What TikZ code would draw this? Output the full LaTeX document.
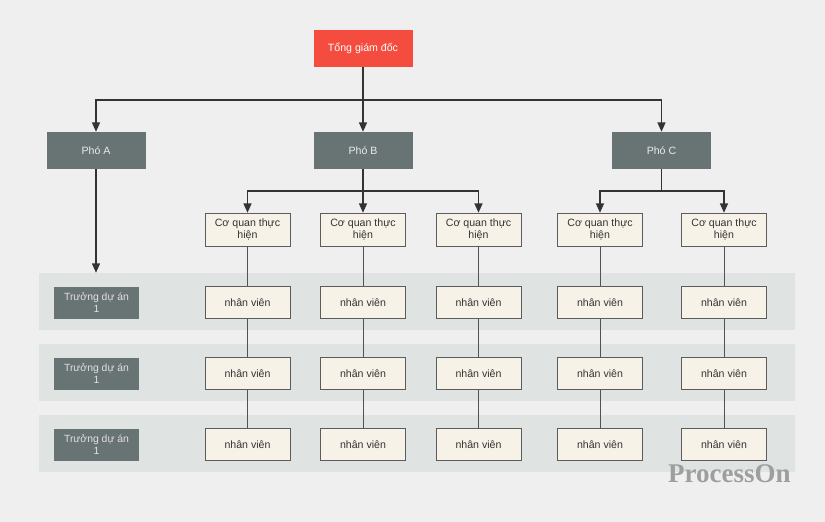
\documentclass[tikz,border=0pt]{standalone}
\usepackage{fontspec}
\setmainfont{Liberation Sans}
\newfontfamily\markfont{Liberation Serif}
\usetikzlibrary{arrows.meta}

\definecolor{bgcol}{HTML}{EFEFEF}
\definecolor{bandcol}{HTML}{DFE4E3}
\definecolor{redbox}{HTML}{F44C3E}
\definecolor{greybox}{HTML}{687473}
\definecolor{beige}{HTML}{F7F2E8}
\definecolor{linecol}{HTML}{333333}

\begin{document}
\begin{tikzpicture}[x=1pt, y=-1pt]
    \tikzstyle{chief}=[
        fill = redbox,
        text = white,
        minimum width = 99pt,
        minimum height = 37pt,
        inner sep = 0pt,
        font = \fontsize{10.6}{12}\selectfont
    ]
    \tikzstyle{deputy}=[
        fill = greybox,
        text = white!92!black,
        minimum width = 99pt,
        minimum height = 37pt,
        inner sep = 0pt,
        font = \fontsize{10.6}{12}\selectfont
    ]
    \tikzstyle{lead}=[
        fill = greybox,
        text = white!88!black,
        minimum width = 85pt,
        minimum height = 32pt,
        inner sep = 0pt,
        align = center,
        font = \fontsize{10.4}{12.8}\selectfont
    ]
    \tikzstyle{unit}=[
        draw = linecol!80,
        fill = beige,
        text = linecol,
        minimum width = 85pt,
        minimum height = 33pt,
        inner sep = 0pt,
        align = center,
        font = \fontsize{10.6}{12.7}\selectfont
    ]
    \tikzstyle{staff}=[unit, minimum height = 32pt]
    \tikzstyle{band}=[
        fill = bandcol,
        minimum width = 756pt,
        minimum height = 57pt,
        inner sep = 0pt
    ]
    \tikzstyle{link}=[
        draw = linecol,
        line width = 1.6pt,
        -{Triangle[length=9.5pt, width=8pt]}
    ]
    \tikzstyle{bar}=[draw = linecol, line width = 1.6pt]
    \tikzstyle{thread}=[draw = linecol!85, line width = 0.8pt]

    \fill[bgcol] (0,0) rectangle (825,522);

    \node[band] (band1) at (417, 301.5) {};
    \node[band] (band2) at (417, 372.5) {};
    \node[band] (band3) at (417, 443.5) {};

    \node[chief]  (tgd)  at (363, 48.5)  {Tổng giám đốc};
    \node[deputy] (phoA) at (96, 150.5)  {Phó A};
    \node[deputy] (phoB) at (363, 150.5) {Phó B};
    \node[deputy] (phoC) at (661.5, 150.5) {Phó C};

    \node[unit] (cq1) at (247.5, 229.5) {Cơ quan thực\\hiện};
    \node[unit] (cq2) at (363, 229.5)   {Cơ quan thực\\hiện};
    \node[unit] (cq3) at (478.5, 229.5) {Cơ quan thực\\hiện};
    \node[unit] (cq4) at (600, 229.5)   {Cơ quan thực\\hiện};
    \node[unit] (cq5) at (724, 229.5)   {Cơ quan thực\\hiện};

    \node[lead] (td1) at (96.5, 302.5) {Trưởng dự án\\1};
    \node[lead] (td2) at (96.5, 373.5) {Trưởng dự án\\1};
    \node[lead] (td3) at (96.5, 444.5) {Trưởng dự án\\1};

    \node[staff] (nv11) at (247.5, 302.5) {nhân viên};
    \node[staff] (nv12) at (247.5, 373.5) {nhân viên};
    \node[staff] (nv13) at (247.5, 444.5) {nhân viên};
    \node[staff] (nv21) at (363, 302.5)   {nhân viên};
    \node[staff] (nv22) at (363, 373.5)   {nhân viên};
    \node[staff] (nv23) at (363, 444.5)   {nhân viên};
    \node[staff] (nv31) at (478.5, 302.5) {nhân viên};
    \node[staff] (nv32) at (478.5, 373.5) {nhân viên};
    \node[staff] (nv33) at (478.5, 444.5) {nhân viên};
    \node[staff] (nv41) at (600, 302.5)   {nhân viên};
    \node[staff] (nv42) at (600, 373.5)   {nhân viên};
    \node[staff] (nv43) at (600, 444.5)   {nhân viên};
    \node[staff] (nv51) at (724, 302.5)   {nhân viên};
    \node[staff] (nv52) at (724, 373.5)   {nhân viên};
    \node[staff] (nv53) at (724, 444.5)   {nhân viên};

    \coordinate (j0) at (363, 100);
    \coordinate (jB) at (363, 191);
    \coordinate (jC) at (661.5, 191);

	\draw[link] (tgd) -- (phoB);
	\draw[link] (j0) -| (phoA);
	\draw[link] (j0) -| (phoC);
	\draw[link] (phoA) -- (phoA |- band1.north);

	\draw[bar]  (phoB) -- (jB);
	\draw[link] (jB) -| (cq1);
	\draw[link] (jB) -- (cq2);
	\draw[link] (jB) -| (cq3);
	\draw[bar]  (phoC) -- (jC);
	\draw[link] (jC) -| (cq4);
	\draw[link] (jC) -| (cq5);

	\path[thread] (cq1) edge (nv11) (nv11) edge (nv12) (nv12) edge (nv13);
	\path[thread] (cq2) edge (nv21) (nv21) edge (nv22) (nv22) edge (nv23);
	\path[thread] (cq3) edge (nv31) (nv31) edge (nv32) (nv32) edge (nv33);
	\path[thread] (cq4) edge (nv41) (nv41) edge (nv42) (nv42) edge (nv43);
	\path[thread] (cq5) edge (nv51) (nv51) edge (nv52) (nv52) edge (nv53);

    \node[anchor=base west, text=black!38, inner sep=0pt,
          font=\markfont\bfseries\fontsize{27}{27}\selectfont] (mark) at (668, 482) {ProcessOn};

	\end{tikzpicture}
\end{document}
